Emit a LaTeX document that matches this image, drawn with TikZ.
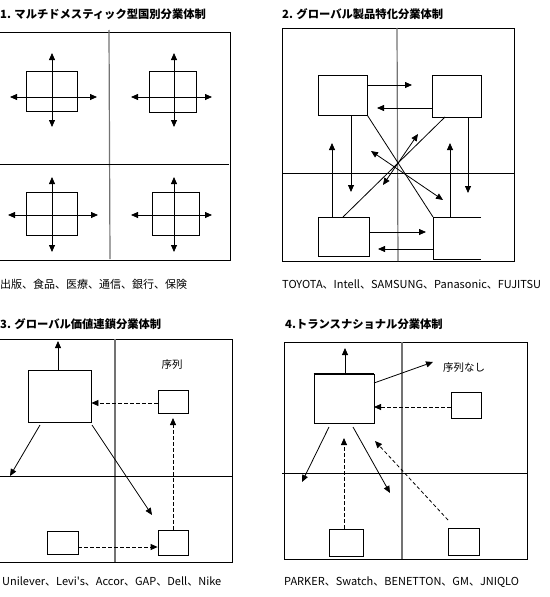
\documentclass[tikz,border=0pt]{standalone}
\usepackage{fontspec}
\newfontfamily\jp{Noto Sans CJK JP}
\usetikzlibrary{arrows.meta}
\tikzset{
  bx/.style={draw=black, line width=0.8pt, fill=white, inner sep=0pt, minimum width=#1},
  bx/.default=30pt,
  ln/.style={line width=0.8pt},
  ar/.style={line width=0.8pt, -{Triangle[length=7pt,width=6pt]}},
  dar/.style={line width=0.8pt, {Triangle[length=7pt,width=6pt]}-{Triangle[length=7pt,width=6pt]}},
  das/.style={ar, dash pattern=on 3.5pt off 2.5pt},
  divg/.style={draw=black!55, line width=1.2pt},
  divk/.style={draw=black, line width=0.8pt},
  ttl/.style={anchor=base west, inner sep=0pt, font=\jp\bfseries\fontsize{11.3pt}{13pt}\selectfont},
  captxt/.style={anchor=base west, inner sep=0pt, font=\jp\fontsize{11pt}{13pt}\selectfont},
  lbl/.style={inner sep=0pt, font=\jp\fontsize{10.5pt}{12pt}\selectfont}
}
\begin{document}
\begin{tikzpicture}[x=1pt,y=-1pt]
\useasboundingbox[fill=white] (0,0) rectangle (549,597);

% ================= Panel 1 =================
\node[ttl] (t1) at (0,18) {1. マルチドメスティック型国別分業体制};
\draw[ln] (0,32) -- (230,32) -- (230,260) -- (0,260);
\draw[divg] (109,30) -- (110,259);
\draw[divk] (0,164) -- (229,164);
\node[bx=51pt, minimum height=40pt] (p1a) at (51.5,91) {};
\node[bx=47pt, minimum height=41pt] (p1b) at (172.5,91.5) {};
\node[bx=51pt, minimum height=43pt] (p1c) at (51.5,213.5) {};
\node[bx=47pt, minimum height=43pt] (p1d) at (175.5,213.5) {};
\draw[line width=1.6pt] (p1d.north east) -- (p1d.south east);
\coordinate (p1aN) at (52,53); \coordinate (p1aS) at (52,127);
\coordinate (p1aW) at (10,97); \coordinate (p1aE) at (97,97);
\draw[dar] (p1aN) -- (p1aS); \draw[dar] (p1aW) -- (p1aE);
\coordinate (p1bN) at (174,53); \coordinate (p1bS) at (174,127);
\coordinate (p1bW) at (131,97); \coordinate (p1bE) at (212,97);
\draw[dar] (p1bN) -- (p1bS); \draw[dar] (p1bW) -- (p1bE);
\coordinate (p1cN) at (52,177); \coordinate (p1cS) at (52,252);
\coordinate (p1cW) at (8,215); \coordinate (p1cE) at (98,215);
\draw[dar] (p1cN) -- (p1cS); \draw[dar] (p1cW) -- (p1cE);
\coordinate (p1dN) at (174,177); \coordinate (p1dS) at (174,252);
\coordinate (p1dW) at (131,215); \coordinate (p1dE) at (212,215);
\draw[dar] (p1dN) -- (p1dS); \draw[dar] (p1dW) -- (p1dE);
\node[captxt] (c1) at (0,288) {出版、食品、医療、通信、銀行、保険};

% ================= Panel 2 =================
\node[ttl] (t2) at (282,18) {2. グローバル製品特化分業体制};
\draw[ln] (282,28) rectangle (514,261);
\draw[divg] (397,28) -- (398,261);
\draw[divk] (282,173) -- (514,173);
\node[bx=49pt, minimum height=40pt] (A) at (342.5,95) {};
\node[bx=49pt, minimum height=42pt] (B) at (456.5,96) {};
\node[bx=51pt, minimum height=39pt] (C) at (343.5,236.5) {};
\coordinate (Dtl) at (433,217); \coordinate (Dtr) at (481,217);
\coordinate (Dbl) at (433,259); \coordinate (Dbr) at (481,259);
\draw[ln] (Dtr) -- (Dtl) -- (Dbl) -- (Dbr);
% horizontal arrows
\coordinate (ab1) at (412,85);  \draw[ar] (A.east |- ab1) -- (ab1);
\coordinate (ba1) at (377,108); \draw[ar] (B.west |- ba1) -- (ba1);
\coordinate (cd1) at (426,232); \draw[ar] (C.east |- cd1) -- (cd1);
\coordinate (dc1) at (378,249); \draw[ar] (Dtl |- dc1) -- (dc1);
% vertical arrows
\coordinate (ad1) at (351,192); \draw[ar] (A.south -| ad1) -- (ad1);
\coordinate (cu1) at (332,143); \draw[ar] (C.north -| cu1) -- (cu1);
\coordinate (bd1) at (468,193); \draw[ar] (B.south -| bd1) -- (bd1);
\coordinate (du1) at (450,143); \draw[ar] (Dtl -| du1) -- (du1);
% diagonal lines
\draw[ln] (A.south east) -- (Dtl);
\coordinate (Bc) at (445,117); \coordinate (Cc) at (343,217);
\draw[ln] (Bc) -- (Cc);
% diagonal double arrows
\coordinate (x1a) at (418,134); \coordinate (x1b) at (383,185);
\draw[dar] (x1b) -- (x1a);
\coordinate (x2a) at (371,151); \coordinate (x2b) at (443,200);
\draw[dar] (x2a) -- (x2b);
\node[captxt] (c2) at (282,288) {TOYOTA、Intell、SAMSUNG、Panasonic、FUJITSU};

% ================= Panel 3 =================
\node[ttl] (t3) at (0,328) {3. グローバル価値連鎖分業体制};
\draw[ln] (0,339) -- (232,339) -- (232,562) -- (0,562);
\draw[divg, line width=1.6pt] (115,339) -- (115,562);
\draw[divk] (0,476) -- (232,476);
\node[bx=63pt, minimum height=52pt] (G) at (59.5,396) {};
\node[bx=30pt, minimum height=23pt] (g1) at (173,401.5) {};
\node[bx=31pt, minimum height=23pt] (g2) at (62.5,542.5) {};
\node[bx=30pt, minimum height=25pt] (g3) at (173,542.5) {};
\node[lbl] (s3) at (172,365) {序列};
\coordinate (gu) at (58,341); \draw[ar] (G.north -| gu) -- (gu);
\coordinate (gl0) at (40,425); \coordinate (gl1) at (10,476); \draw[ar] (gl0) -- (gl1);
\coordinate (gr0) at (92,425); \coordinate (gr1) at (152,515); \draw[ar] (gr0) -- (gr1);
\coordinate (gh) at (91,403); \draw[das] (g1.west |- gh) -- (G.east |- gh);
\coordinate (gv) at (173,418); \draw[das] (g3.north) -- (gv);
\coordinate (gb) at (78,547); \draw[das] (g2.east |- gb) -- (g3.west |- gb);
\node[captxt] (c3) at (2,585) {Unilever、Levi's、Accor、GAP、Dell、Nike};

% ================= Panel 4 =================
\node[ttl] (t4) at (285,328) {4.トランスナショナル分業体制};
\draw[ln] (284,342) rectangle (527,559);
\draw[divg] (402,342) -- (402,559);
\draw[divk] (282,473) -- (527,473);
\node[bx=60pt, minimum height=49pt] (T) at (344,398.5) {};
\draw[line width=1.6pt] (T.north west) -- (T.north east);
\node[bx=30pt, minimum height=26pt] (t1b) at (466,405) {};
\node[bx=34pt, minimum height=27pt] (t2b) at (346,542.5) {};
\node[bx=31pt, minimum height=27pt] (t3b) at (463.5,541.5) {};
\node[lbl] (s4) at (464,368) {序列なし};
\coordinate (tu) at (345,348); \draw[ar] (T.north -| tu) -- (tu);
\coordinate (te0) at (374,383); \coordinate (te1) at (433,362); \draw[ar] (te0) -- (te1);
\coordinate (th) at (374,407); \draw[das] (t1b.west |- th) -- (th);
\coordinate (tl0) at (329,427); \coordinate (tl1) at (302,482); \draw[ar] (tl0) -- (tl1);
\coordinate (tr0) at (353,427); \coordinate (tr1) at (390,493); \draw[ar] (tr0) -- (tr1);
\coordinate (tv) at (344,438); \draw[das] (t2b.north -| tv) -- (tv);
\coordinate (td0) at (448,520); \coordinate (td1) at (375,441); \draw[das] (td0) -- (td1);
\node[captxt] (c4) at (284,585) {PARKER、Swatch、BENETTON、GM、JNIQLO};
\end{tikzpicture}
\end{document}
